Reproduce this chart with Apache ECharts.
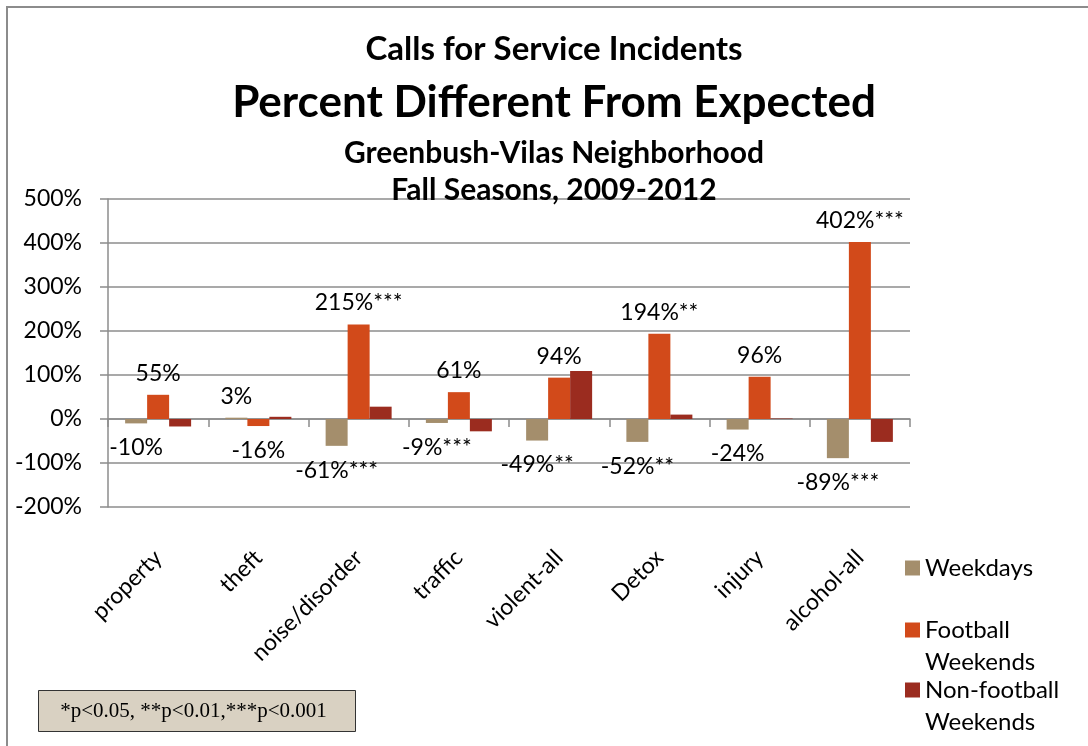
<!DOCTYPE html>
<html>
<head>
<meta charset="utf-8">
<title>Calls for Service Incidents</title>
<script src="https://cdn.jsdelivr.net/npm/echarts@6.0.0/dist/echarts.min.js"></script>
<style>
  html, body { margin: 0; padding: 0; background: #fff; }
  #chart { width: 1088px; height: 746px; }
</style>
</head>
<body>
<div id="chart"></div>
<script>
// data
var categories = ["property", "theft", "noise/disorder", "traffic", "violent-all", "Detox", "injury", "alcohol-all"];
var weekdays = [-10, 3, -61, -9, -49, -52, -24, -89];
var footballWeekends = [55, -16, 215, 61, 94, 194, 96, 402];
var nonFootballWeekends = [-17, 5, 28, -28, 109, 10, 1, -52];
var weekdayLabels = ["-10%", "3%", "-61%***", "-9%***", "-49%**", "-52%**", "-24%", "-89%***"];
var footballLabels = ["55%", "-16%", "215%***", "61%", "94%", "194%**", "96%", "402%***"];
var yTicks = { min: -200, max: 500, interval: 100 };

var FONT = "Lato";
var colors = ["#a48e6c", "#d24a1a", "#9b2c1f"];

// positive labels above the bar, negative ones below
function labelled(values) {
  return values.map(function (v) {
    return {
      value: v,
      label: { position: v >= 0 ? "top" : "bottom", distance: v >= 0 ? 10 : 13 }
    };
  });
}

var chart = echarts.init(document.getElementById("chart"));

var labelStyle = {
  show: true,
  color: "#000",
  fontFamily: FONT,
  fontSize: 23
};

chart.setOption({
  animation: false,
  title: [
    {
      text: "Calls for Service Incidents",
      left: 554, textAlign: "center", top: 33, padding: 0,
      textStyle: { fontFamily: FONT, fontWeight: "bold", fontSize: 33, color: "#000" }
    },
    {
      text: "Percent Different From Expected",
      left: 554, textAlign: "center", top: 81, padding: 0,
      textStyle: { fontFamily: FONT, fontWeight: "bold", fontSize: 44, color: "#000" }
    },
    {
      text: "Greenbush-Vilas Neighborhood",
      left: 554, textAlign: "center", top: 138, padding: 0,
      textStyle: { fontFamily: FONT, fontWeight: "bold", fontSize: 30, color: "#000" }
    },
    {
      text: "Fall Seasons, 2009-2012",
      left: 554, textAlign: "center", top: 175, padding: 0,
      textStyle: { fontFamily: FONT, fontWeight: "bold", fontSize: 30, color: "#000" }
    }
  ],
  legend: [
    {
      data: ["Weekdays"], left: 905, top: 552, padding: 0,
      icon: "rect", itemWidth: 15, itemHeight: 15,
      textStyle: { fontFamily: FONT, fontSize: 24, lineHeight: 32, color: "#000" }
    },
    {
      data: ["Football Weekends"], left: 905, top: 582, padding: 0,
      icon: "rect", itemWidth: 15, itemHeight: 15,
      formatter: function () { return " \nFootball\nWeekends"; },
      textStyle: { fontFamily: FONT, fontSize: 24, lineHeight: 32, color: "#000" }
    },
    {
      data: ["Non-football Weekends"], left: 905, top: 642, padding: 0,
      icon: "rect", itemWidth: 15, itemHeight: 15,
      formatter: function () { return " \nNon-football\nWeekends"; },
      textStyle: { fontFamily: FONT, fontSize: 24, lineHeight: 32, color: "#000" }
    }
  ],
  grid: { left: 108, right: 178, top: 199, bottom: 239, containLabel: false },
  xAxis: [
    {
      // category names along the bottom of the plot
      type: "category",
      data: categories,
      position: "bottom",
      axisLine: { show: false, onZero: false },
      axisTick: { show: false },
      axisLabel: {
        interval: 0, rotate: 45, margin: 47,
        fontFamily: FONT, fontSize: 23, color: "#000"
      }
    },
    {
      // the line at 0% with its tick marks
      type: "category",
      data: categories,
      position: "bottom",
      axisLine: { show: true, onZero: true, lineStyle: { color: "#8c8c8c", width: 1.5 } },
      axisTick: { show: true, length: 8, lineStyle: { color: "#8c8c8c", width: 1.5 } },
      axisLabel: { show: false }
    }
  ],
  yAxis: {
    type: "value",
    min: yTicks.min,
    max: yTicks.max,
    interval: yTicks.interval,
    axisLine: { show: true, lineStyle: { color: "#8c8c8c", width: 1.5 } },
    axisTick: { show: true, length: 8, lineStyle: { color: "#8c8c8c", width: 1.5 } },
    axisLabel: {
      formatter: "{value}%", margin: 26,
      fontFamily: FONT, fontSize: 23, color: "#000"
    },
    splitLine: { lineStyle: { color: "#8c8c8c", width: 1.5 } }
  },
  series: [
    {
      name: "Weekdays",
      type: "bar",
      data: labelled(weekdays),
      barWidth: 22,
      barGap: "0%",
      itemStyle: { color: colors[0] },
      label: Object.assign({}, labelStyle, {
        formatter: function (p) { return weekdayLabels[p.dataIndex]; }
      })
    },
    {
      name: "Football Weekends",
      type: "bar",
      data: labelled(footballWeekends),
      barWidth: 22,
      barGap: "0%",
      itemStyle: { color: colors[1] },
      label: Object.assign({}, labelStyle, {
        formatter: function (p) { return footballLabels[p.dataIndex]; }
      })
    },
    {
      name: "Non-football Weekends",
      type: "bar",
      data: nonFootballWeekends,
      barWidth: 22,
      barGap: "0%",
      itemStyle: { color: colors[2] }
    }
  ],
  graphic: [
    {
      // outer frame of the chart
      type: "rect",
      silent: true,
      shape: { x: 7, y: 7, width: 1200, height: 800 },
      style: { fill: "none", stroke: "#8c8c8c", lineWidth: 2 }
    },
    {
      // significance footnote
      type: "group",
      left: 38,
      top: 690,
      children: [
        {
          type: "rect",
          shape: { x: 0, y: 0, width: 317, height: 41 },
          style: { fill: "#d9d1c2", stroke: "#333", lineWidth: 1 }
        },
        {
          type: "text",
          x: 155, y: 21,
          style: {
            text: "*p<0.05, **p<0.01,***p<0.001",
            fontFamily: "Liberation Serif", fontSize: 21,
            fill: "#000", align: "center", verticalAlign: "middle"
          }
        }
      ]
    }
  ]
});
</script>
</body>
</html>
